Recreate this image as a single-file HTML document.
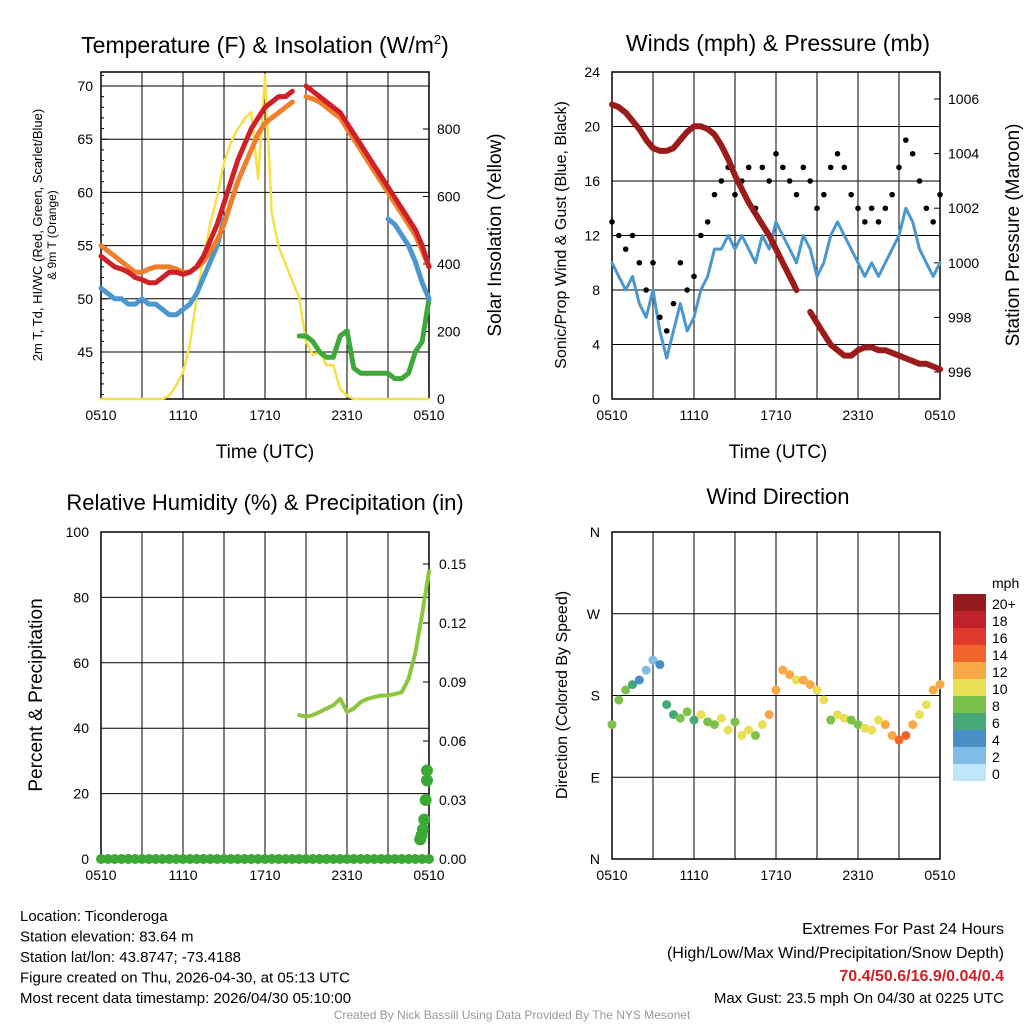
<!DOCTYPE html>
<html><head><meta charset="utf-8">
<style>
html,body{margin:0;padding:0;background:#fff;}
svg{display:block;font-family:"Liberation Sans",sans-serif;}
</style></head>
<body>
<svg id="c" width="1024" height="1024" viewBox="0 0 1024 1024"></svg>
<script>
const timeTicks=["0510","1110","1710","2310","0510"];
const red=[54,53.5,53,52.8,52.5,52,51.8,51.5,51.5,52,52.5,52.5,52.3,52.5,53,54,55.5,57,59,61,63,64.5,66,67,68,68.5,69,69,69.5,null,70,69.5,69,68.5,68,67.5,66.5,65.5,64.5,63.5,62.5,61.5,60.5,59.5,58.5,57.5,56.5,55,53];
const orange=[55,54.5,54,53.5,53,52.5,52.5,52.8,53,53,53,52.8,52.5,52.5,53,53.5,54.5,55.5,57,59,61,62.5,64,65.5,66.5,67,67.5,68,68.5,null,69,68.8,68.5,68,67.5,67,66,65,64,63,62,61,60,59,58,57,56,54.5,53];
const blueT=[51,50.5,50,50,49.5,49.5,50,49.5,49.5,49,48.5,48.5,49,49.5,50.5,52,53.5,55,57.5,null,null,null,null,null,null,null,null,null,null,null,null,null,null,null,null,null,null,null,null,null,null,null,57.5,57,56,55,53.5,51.5,50];
const green=[null,null,null,null,null,null,null,null,null,null,null,null,null,null,null,null,null,null,null,null,null,null,null,null,null,null,null,null,null,46.5,46.5,46,45,44.5,44.5,46.5,47,43.5,43,43,43,43,43,42.5,42.5,43,45,46,50];
const insol=[0,0,0,0,0,0,0,0,0,0,10,40,80,160,300,420,520,600,700,760,800,830,850,650,960,550,450,400,350,300,170,130,140,100,100,30,10,0,0,0,0,0,0,0,0,0,0,0,0];
const wind=[10,9,8,9,7,6,8,5,3,5,7,5,6,8,9,11,11,12,11,12,11,10,12,11,13,12,11,10,12,11,9,10,12,13,12,11,10,9,10,9,10,11,12,14,13,11,10,9,10];
const gust=[13,12,11,12,10,8,10,6,5,7,10,8,9,12,13,15,16,17,15,16,17,14,17,16,18,17,16,15,17,16,14,15,17,18,17,15,14,13,14,13,14,15,17,19,18,16,14,13,15];
const pres=[1005.8,1005.7,1005.5,1005.2,1004.9,1004.5,1004.2,1004.1,1004.1,1004.2,1004.5,1004.8,1005,1005,1004.9,1004.7,1004.3,1003.8,1003.2,1002.7,1002.2,1001.8,1001.4,1001,1000.5,1000,999.5,999,null,998.2,997.8,997.4,997,996.8,996.6,996.6,996.8,996.9,996.9,996.8,996.8,996.7,996.6,996.5,996.4,996.3,996.3,996.2,996.1];
const rh=[null,null,null,null,null,null,null,null,null,null,null,null,null,null,null,null,null,null,null,null,null,null,null,null,null,null,null,null,null,44,43.5,44,45,46,47,49,45,46,48,49,49.5,50,50,50.5,51,55,63,75,88];
const precipT=[23.5,23.6,23.7,23.8,23.9,24,24];
const precipV=[0.01,0.012,0.015,0.02,0.03,0.04,0.045];
const wdir=[148,175,186,192,197,208,219,214,170,159,155,162,153,159,151,148,155,142,151,136,142,136,148,159,186,208,203,197,197,192,186,175,153,159,155,153,148,144,142,153,148,136,131,136,148,159,170,186,192];
const wspd=[9,9,8,7,5,3,3,4,7,7,8,9,7,10,9,8,10,11,9,10,10,8,11,12,12,13,12,11,12,12,11,10,9,11,10,8,9,10,10,11,12,13,15,14,12,11,10,12,12];
const cbLabels=["20+","18","16","14","12","10","8","6","4","2","0"];
const cbColors=["#961b1e","#c0222b","#e03a2d","#f2642b","#f8a846","#e9e055","#7cc14a","#45a875","#4a8ec8","#80bde6","#bfe6f8"];

const NS="http://www.w3.org/2000/svg";
const svg=document.getElementById('c');
function el(tag,attrs,parent){const e=document.createElementNS(NS,tag);for(const k in attrs)e.setAttribute(k,attrs[k]);(parent||svg).appendChild(e);return e;}
function txt(x,y,s,size,anchor,parent,extra){const t=el('text',Object.assign({x:x,y:y,'font-size':size,'text-anchor':anchor||'middle',fill:'#000'},extra||{}),parent);t.textContent=s;return t;}

function panel(x0,y0,w,h,name){
  const g=el('g',{});
  
  
  for(let i=1;i<8;i++){const x=x0+i*w/8;el('line',{x1:x,y1:y0,x2:x,y2:y0+h,stroke:'#000','stroke-width':1},g);}
  el('rect',{x:x0,y:y0,width:w,height:h,fill:'none',stroke:'#000','stroke-width':1.5},g);
  timeTicks.forEach((s,i)=>{const x=x0+i*w/4;el('line',{x1:x,y1:y0+h,x2:x,y2:y0+h-6,stroke:'#000'},g);txt(x,y0+h+21,s,14,'middle',g);});
  return g;
}
function xs(x0,w){return t=>x0+t/24*w;}
function lineFrom(arr,fx,fy,color,width,g,name){
  let d='',pen=false;
  arr.forEach((v,i)=>{if(v===null){pen=false;return;}const x=fx(i*0.5),y=fy(v);d+=(pen?'L':'M')+x.toFixed(1)+' '+y.toFixed(1);pen=true;});
  const p=el('path',{d:d,fill:'none',stroke:color,'stroke-width':width,'stroke-linejoin':'round','stroke-linecap':'round'},g);
  
  
  return p;
}

// Panel 1: temperature
{const x0=101,y0=72,w=328,h=327;const g=panel(x0,y0,w,h,'temperature-panel');
 const fx=xs(x0,w);const fy=v=>86+(70-v)*10.64;const fi=v=>399-v*0.3375;
 [45,50,55,60,65,70].forEach(v=>{const y=fy(v);el('line',{x1:x0,y1:y,x2:x0+w,y2:y,stroke:'#000'},g);el('line',{x1:x0,y1:y,x2:x0+6,y2:y,stroke:'#000'},g);txt(x0-8,y+5,v,14,'end',g);});
 for(let v=41;v<=71;v++){if(v%5){const y=fy(v);el('line',{x1:x0,y1:y,x2:x0+3,y2:y,stroke:'#000'},g);}}
 [0,200,400,600,800].forEach(v=>{const y=fi(v);el('line',{x1:x0+w,y1:y,x2:x0+w-6,y2:y,stroke:'#000'},g);txt(x0+w+8,y+5,v,14,'start',g);});
 lineFrom(insol,fx,fi,'#f5e04a',2.5,g,'insolation-line');
 lineFrom(green,fx,fy,'#3fa83a',5,g,'heat-index-line');
 lineFrom(blueT,fx,fy,'#4b97cf',5,g,'dewpoint-line');
 lineFrom(orange,fx,fy,'#f07f2c',5,g,'temp-9m-line');
 lineFrom(red,fx,fy,'#d02027',5,g,'temp-2m-line');
 const t=txt(265,53,'Temperature (F) & Insolation (W/m',23,'middle',g);
 const s=el('tspan',{'font-size':13,dy:-9},t);s.textContent='2';const s2=el('tspan',{dy:9},t);s2.textContent=')';
 
 txt(265,458,'Time (UTC)',19,'middle',g);
 const yl=el('g',{transform:'translate(42,235) rotate(-90)'},g);
 const a=txt(0,0,'2m T, Td, HI/WC (Red, Green, Scarlet/Blue)',13,'middle',yl);
 
 txt(0,14,'& 9m T (Orange)',12,'middle',yl);
 const yr=el('g',{transform:'translate(501,235) rotate(-90)'},g);
 txt(0,0,'Solar Insolation (Yellow)',19,'middle',yr);
}
// Panel 2: winds
{const x0=612,y0=72,w=328,h=327;const g=panel(x0,y0,w,h,'winds-panel');
 const fx=xs(x0,w);const fy=v=>399-v*13.625;const fp=v=>372-(v-996)*27.3;
 [0,4,8,12,16,20,24].forEach(v=>{const y=fy(v);if(v>0&&v<24)el('line',{x1:x0,y1:y,x2:x0+w,y2:y,stroke:'#000'},g);txt(x0-12,y+5,v,14,'end',g);});
 [996,998,1000,1002,1004,1006].forEach(v=>{const y=fp(v);el('line',{x1:x0+w,y1:y,x2:x0+w-6,y2:y,stroke:'#000'},g);txt(x0+w+8,y+5,v,14,'start',g);});
 lineFrom(wind,fx,fy,'#4b97cf',3,g,'sustained-wind-line');
 gust.forEach((v,i)=>{const c=el('circle',{cx:fx(i*0.5),cy:fy(v),r:2.8,fill:'#000'},g);
  });
 lineFrom(pres,fx,fp,'#9b1b1b',6,g,'pressure-line');
 txt(778,51,'Winds (mph) & Pressure (mb)',23,'middle',g);
 txt(778,458,'Time (UTC)',19,'middle',g);
 const yl=el('g',{transform:'translate(566,235) rotate(-90)'},g);txt(0,0,'Sonic/Prop Wind & Gust (Blue, Black)',16,'middle',yl);
 const yr=el('g',{transform:'translate(1019,235) rotate(-90)'},g);txt(0,0,'Station Pressure (Maroon)',19,'middle',yr);
}
// Panel 3: RH
{const x0=101,y0=532,w=328,h=327;const g=panel(x0,y0,w,h,'humidity-panel');
 const fx=xs(x0,w);const fy=v=>859-v*3.27;const fp=v=>859-v/0.03*59;
 [0,20,40,60,80,100].forEach(v=>{const y=fy(v);if(v>0&&v<100)el('line',{x1:x0,y1:y,x2:x0+w,y2:y,stroke:'#000'},g);txt(x0-12,y+5,v,14,'end',g);});
 ["0.00","0.03","0.06","0.09","0.12","0.15"].forEach(s=>{const y=fp(+s);el('line',{x1:x0+w,y1:y,x2:x0+w-6,y2:y,stroke:'#000'},g);txt(x0+w+10,y+5,s,14,'start',g);});
 lineFrom(rh,fx,fy,'#8cc63f',4,g,'humidity-line');
 for(let i=0;i<49;i++){const c=el('circle',{cx:fx(i*0.5),cy:fp(0),r:5,fill:'#3aaa35'},g);}
 precipT.forEach((t,i)=>{const c=el('circle',{cx:fx(t)-2,cy:fp(precipV[i]),r:6,fill:'#3aaa35'},g);});
 txt(265,510,'Relative Humidity (%) & Precipitation (in)',22,'middle',g);
 const yl=el('g',{transform:'translate(42,695) rotate(-90)'},g);txt(0,0,'Percent & Precipitation',19,'middle',yl);
}
// Panel 4: direction
{const x0=612,y0=532,w=328,h=327;const g=panel(x0,y0,w,h,'wind-direction-panel');
 const fx=xs(x0,w);const fy=v=>859-v/360*327;
 [["N",0],["E",90],["S",180],["W",270],["N",360]].forEach(([s,v])=>{const y=fy(v);if(v>0&&v<360)el('line',{x1:x0,y1:y,x2:x0+w,y2:y,stroke:'#000'},g);txt(x0-12,y+5,s,14,'end',g);});
 wdir.forEach((d,i)=>{const b=Math.min(10,Math.floor(wspd[i]/2));const c=el('circle',{cx:fx(i*0.5),cy:fy(d),r:4.5,fill:cbColors[10-b]},g);
  });
 txt(778,504,'Wind Direction',22,'middle',g);
 const yl=el('g',{transform:'translate(567,695) rotate(-90)'},g);txt(0,0,'Direction (Colored By Speed)',16,'middle',yl);
 const cb=el('g',{},g);
 txt(992,588,'mph',14,'start',cb);
 cbLabels.forEach((s,i)=>{el('rect',{x:953,y:594+i*17,width:33,height:17,fill:cbColors[i]},cb);txt(992,609+i*17,s,14,'start',cb);});
}
// footer text
const left=["Location: Ticonderoga","Station elevation: 83.64 m","Station lat/lon: 43.8747; -73.4188","Figure created on Thu, 2026-04-30, at 05:13 UTC","Most recent data timestamp: 2026/04/30 05:10:00"];
left.forEach((s,i)=>{const t=txt(20,921+i*20.5,s,15,'start');});
txt(1004,934,'Extremes For Past 24 Hours',16,'end');
txt(1004,958,'(High/Low/Max Wind/Precipitation/Snow Depth)',16,'end');
txt(1004,981,'70.4/50.6/16.9/0.04/0.4',16,'end',null,{fill:'#d02027','font-weight':'bold'});
txt(1004,1003,'Max Gust: 23.5 mph On 04/30 at 0225 UTC',15,'end');
txt(512,1019,'Created By Nick Bassill Using Data Provided By The NYS Mesonet',12,'middle',null,{fill:'#999'});
</script>
</body></html>
